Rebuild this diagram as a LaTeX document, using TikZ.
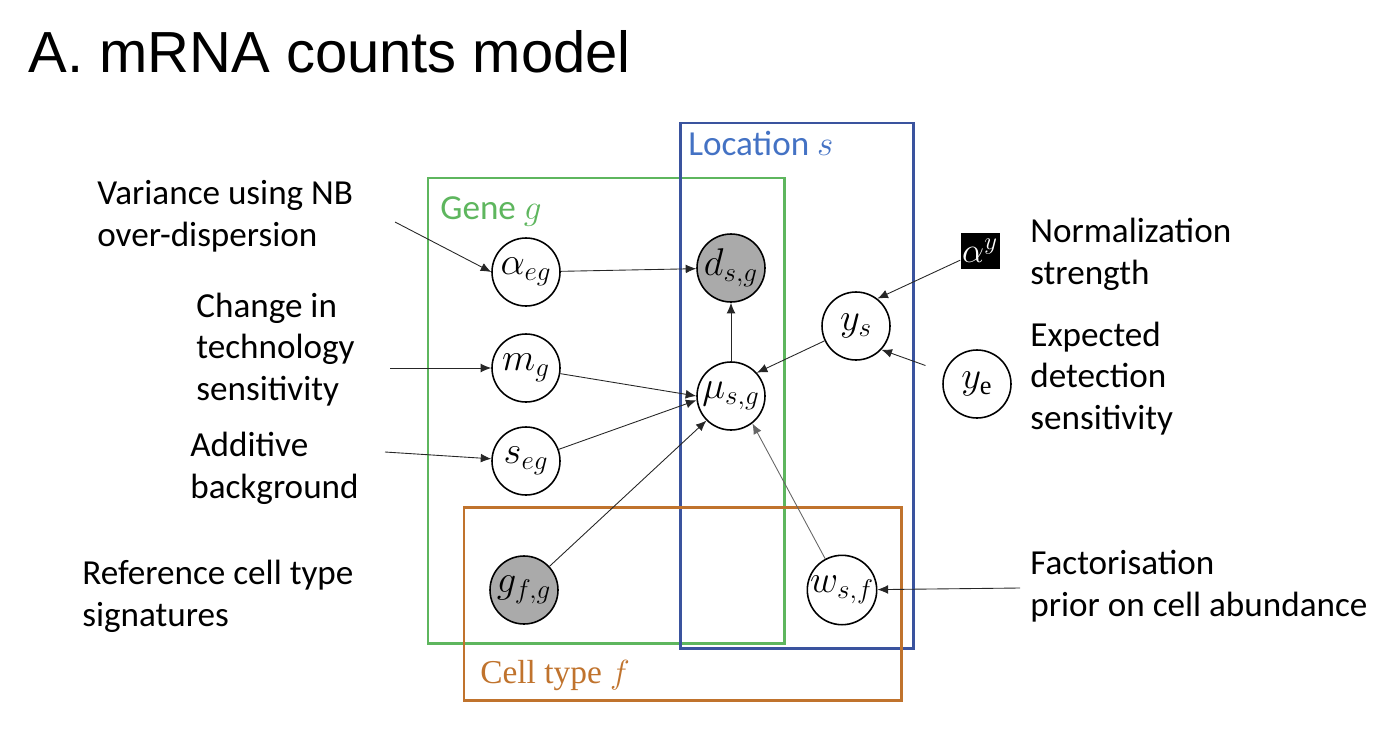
\RequirePackage{fix-cm}
\documentclass[tikz,border=0pt]{standalone}
\usepackage{fontspec}
\setmainfont{Carlito}
\newfontfamily\titlefont{Liberation Sans}
\newfontfamily\cambria{Liberation Serif}
\usetikzlibrary{arrows.meta}
\definecolor{genegreen}{HTML}{5EB65E}
\definecolor{locblue}{HTML}{3A539E}
\definecolor{locbluetext}{HTML}{4472C4}
\definecolor{cellorange}{HTML}{C0732D}
\definecolor{obsgray}{HTML}{AAAAAA}
\begin{document}
\begin{tikzpicture}[x=0.02cm,y=-0.02cm,
  lbl/.style={anchor=base west, inner sep=0, align=left, font=\fontsize{20}{23.5}\selectfont},
  rv/.style={circle, draw=black, line width=0.9pt, minimum size=1.36cm, inner sep=0, fill=white, font=\fontsize{22}{26}\selectfont},
  obs/.style={rv, fill=obsgray},
  edge/.style={-{Latex[length=6pt,width=5pt]}, line width=0.5pt, draw=black!85},
  plate/.style={line width=1.7pt}]
\useasboundingbox (0,0) rectangle (1396,734);
% plates
\draw[plate, draw=genegreen] (428,178) rectangle (784,643);
\draw[plate, draw=locblue] (680,123) rectangle (913,648);
\draw[plate, draw=cellorange] (464,507) rectangle (901,700);
\node[lbl, text=locbluetext] (locl) at (688,155) {Location $s$};
\node[lbl, text=genegreen] (genel) at (440,219) {Gene $g$};
\node[lbl, text=cellorange, font=\cambria\fontsize{19}{23}\selectfont] (celll) at (480,683) {Cell type $f$};
% title
\node[anchor=base west, inner sep=0, font=\titlefont\fontsize{33}{40}\selectfont] (title) at (28,72) {A. mRNA counts model};
% variables
\node[rv] (aeg) at (526,272) {$\alpha_{eg}$};
\node[obs] (dsg) at (731,268) {$d_{s,g}$};
\node[rv] (mg) at (526,368) {$m_g$};
\node[rv] (mu) at (731,396) {$\mu_{s,g}$};
\node[rv] (seg) at (526,461) {$s_{eg}$};
\node[rv] (ys) at (856,326) {$y_s$};
\node[rv] (ye) at (977,384) {$y_{\mbox{\cambria\fontsize{15}{17}\selectfont e}}$};
\node[obs] (gfg) at (524,590) {$g_{f,g}$};
\node[rv] (wsf) at (842,590) {$w_{s,f}$};
\node[fill=black, text=white, minimum width=0.78cm, minimum height=0.72cm, inner sep=0, font=\fontsize{20}{24}\selectfont] (ay) at (980,251) {$\alpha^{y}$};
% labels
\node[lbl] (t1) at (97,246) {Variance using NB\\over-dispersion};
\node[lbl] (t2) at (196,400) {Change in\\technology\\sensitivity};
\node[lbl] (t3) at (190,498) {Additive\\background};
\node[lbl] (t4) at (82,626) {Reference cell type\\signatures};
\node[lbl] (t5) at (1030,284) {Normalization\\strength};
\node[lbl] (t6) at (1030,429) {Expected\\detection\\sensitivity};
\node[lbl] (t7) at (1030,616) {Factorisation\\prior on cell abundance};
% free ends
\coordinate (v0) at (395,222);
\coordinate (c0) at (390,368);
\coordinate (ad0) at (385,452);
\coordinate (f0) at (1020,588);
% edges
\draw[edge] (v0) -- (aeg.west);
\draw[edge] (c0) -- (mg);
\draw[edge] (ad0) -- (seg);
\draw[edge] (aeg) -- (dsg);
\draw[edge] (mu) -- (dsg);
\draw[edge] (mg) -- (mu.180);
\draw[edge] (seg) -- (mu.187);
\draw[edge] (gfg) -- (mu.225);
\draw[edge, draw=black!60] (wsf) -- (mu.308);
\draw[edge] (ys) -- (mu.42);
\draw[edge] (ay) -- (ys.52);
\draw[edge, shorten <=0.4cm] (ye) -- (ys.317);
\draw[edge] (f0) -- (wsf);
\end{tikzpicture}
\end{document}
